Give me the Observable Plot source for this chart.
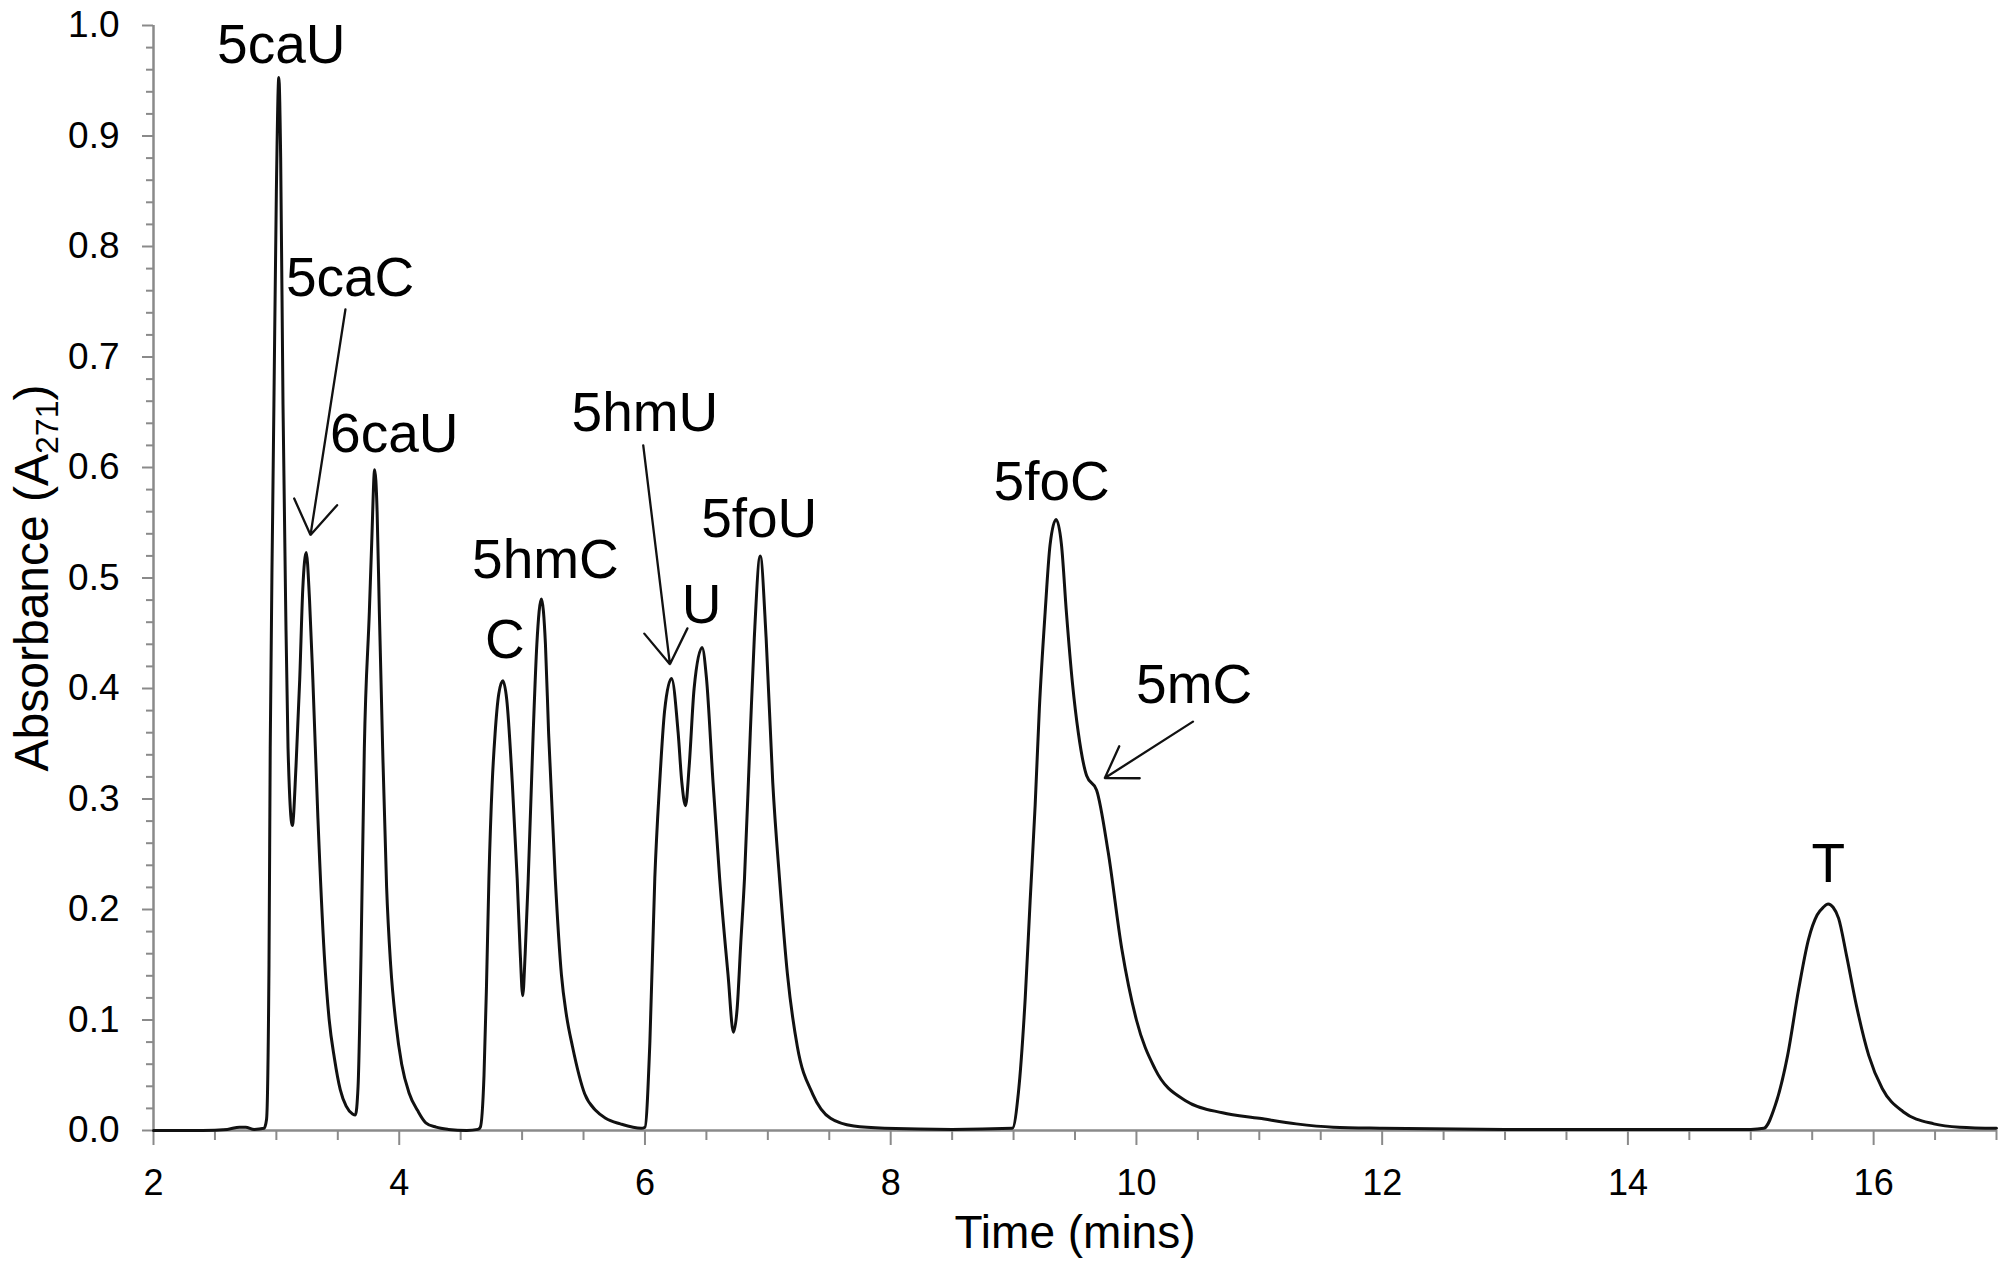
<!DOCTYPE html>
<html>
<head>
<meta charset="utf-8">
<script src="https://cdn.jsdelivr.net/npm/d3@7"></script>
<script src="https://cdn.jsdelivr.net/npm/@observablehq/plot@0.6"></script>
<style>
  html, body { margin: 0; padding: 0; background: #ffffff; }
  #chart svg { display: block; }
</style>
</head>
<body>
<div id="chart"></div>
<script>
// ---- Chromatogram trace (time in minutes, absorbance A271) ----
const time = [2.00, 2.40, 2.60, 2.70, 2.75, 2.82, 2.90, 2.92, 2.94, 2.95, 2.97, 2.98, 3.00, 3.02, 3.035, 3.054, 3.075, 3.095, 3.13, 3.16,
  3.19, 3.215, 3.243, 3.27, 3.297, 3.338, 3.39, 3.43, 3.473, 3.52, 3.568, 3.62, 3.643, 3.665, 3.689, 3.716, 3.757, 3.776, 3.80, 3.82,
  3.838, 3.865, 3.897, 3.93, 3.973, 4.02, 4.08, 4.15, 4.216, 4.30, 4.40, 4.55, 4.64, 4.66, 4.69, 4.71, 4.73, 4.757, 4.78, 4.81,
  4.843, 4.875, 4.92, 4.96, 4.985, 5.005, 5.025, 5.05, 5.09, 5.12, 5.157, 5.19, 5.216, 5.27, 5.32, 5.36, 5.41, 5.51, 5.60, 5.68,
  5.80, 5.97, 6.00, 6.04, 6.08, 6.12, 6.16, 6.216, 6.27, 6.30, 6.33, 6.36, 6.40, 6.465, 6.50, 6.554, 6.608, 6.676, 6.72, 6.75,
  6.78, 6.81, 6.857, 6.89, 6.938, 6.986, 7.04, 7.095, 7.16, 7.24, 7.365, 7.51, 7.70, 7.95, 8.50, 8.99, 9.04, 9.095, 9.135, 9.176,
  9.21, 9.257, 9.297, 9.346, 9.39, 9.43, 9.48, 9.527, 9.595, 9.676, 9.77, 9.88, 10.00, 10.15, 10.40, 10.70, 11.00, 11.30, 11.60, 12.00,
  13.00, 14.00, 15.00, 15.106, 15.20, 15.30, 15.39, 15.47, 15.54, 15.59, 15.63, 15.67, 15.715, 15.78, 15.86, 15.96, 16.07, 16.24, 16.49, 16.70, 17.00];

const absorbance = [0.000, 0.000, 0.001, 0.003, 0.003, 0.001, 0.002, 0.010, 0.150, 0.346, 0.560, 0.657, 0.850, 0.953, 0.880, 0.657, 0.480, 0.346, 0.276, 0.330,
  0.408, 0.490, 0.523, 0.480, 0.408, 0.283, 0.159, 0.100, 0.065, 0.037, 0.022, 0.015, 0.014, 0.040, 0.159, 0.346, 0.470, 0.532, 0.598, 0.560,
  0.470, 0.346, 0.221, 0.150, 0.097, 0.060, 0.034, 0.018, 0.007, 0.003, 0.001, 0.000, 0.001, 0.003, 0.050, 0.130, 0.228, 0.315, 0.359, 0.395,
  0.407, 0.390, 0.315, 0.228, 0.160, 0.122, 0.160, 0.228, 0.359, 0.440, 0.481, 0.440, 0.359, 0.228, 0.141, 0.105, 0.076, 0.033, 0.018, 0.011,
  0.006, 0.002, 0.003, 0.080, 0.228, 0.315, 0.380, 0.409, 0.360, 0.315, 0.294, 0.330, 0.400, 0.437, 0.410, 0.315, 0.228, 0.141, 0.089, 0.110,
  0.170, 0.228, 0.359, 0.446, 0.520, 0.446, 0.315, 0.228, 0.141, 0.076, 0.033, 0.011, 0.004, 0.002, 0.001, 0.002, 0.035, 0.120, 0.208, 0.295,
  0.382, 0.469, 0.530, 0.553, 0.530, 0.469, 0.404, 0.360, 0.321, 0.308, 0.252, 0.165, 0.100, 0.056, 0.027, 0.016, 0.011, 0.006, 0.003, 0.002,
  0.001, 0.001, 0.001, 0.002, 0.023, 0.068, 0.128, 0.173, 0.195, 0.202, 0.205, 0.202, 0.192, 0.158, 0.113, 0.068, 0.038, 0.017, 0.006, 0.003, 0.002];

// ---- Peak annotations ----
const peakLabels = ["5caU", "5caC", "6caU", "C", "5hmC", "5hmU", "U", "5foU", "5foC", "5mC", "T"];
const labelTime  = [3.04, 3.60, 3.96, 4.86, 5.19, 6.00, 6.46, 6.93, 9.31, 10.47, 15.63];
const labelAbs   = [0.966, 0.755, 0.614, 0.428, 0.500, 0.633, 0.459, 0.537, 0.571, 0.387, 0.225];

// ---- Arrows (label -> peak) ----
const arrowFromTime = [3.562, 5.986, 10.46];
const arrowFromAbs  = [0.743, 0.620, 0.370];
const arrowToTime   = [3.278, 6.203, 9.743];
const arrowToAbs    = [0.539, 0.422, 0.319];

// ---- Axes ----
const xTickValues = [2, 4, 6, 8, 10, 12, 14, 16];
const xTickLabels = ["2", "4", "6", "8", "10", "12", "14", "16"];
const xMinorTicks = [2.5, 3, 3.5, 4.5, 5, 5.5, 6.5, 7, 7.5, 8.5, 9, 9.5, 10.5, 11, 11.5, 12.5, 13, 13.5, 14.5, 15, 15.5, 16.5, 17];
const yTickValues = [0, 0.1, 0.2, 0.3, 0.4, 0.5, 0.6, 0.7, 0.8, 0.9, 1.0];
const yTickLabels = ["0.0", "0.1", "0.2", "0.3", "0.4", "0.5", "0.6", "0.7", "0.8", "0.9", "1.0"];
const yMinorTicks = d3.range(0, 50).map(i => i * 0.02).filter((v, i) => i % 5 !== 0);
const xTitle = "Time (mins)";
const yTitle = "Absorbance (A271)";

const trace = time.map((t, i) => ({t, a: absorbance[i]}));
const labelIdx = peakLabels.map((_, i) => i);
const arrowIdx = arrowFromTime.map((_, i) => i);

const AXIS = "#8a8a8a";
const FONT = "'Liberation Sans', Arial, Helvetica, sans-serif";

const chart = Plot.plot({
  width: 2010,
  height: 1280,
  marginLeft: 153,
  marginRight: 14,
  marginTop: 25,
  marginBottom: 150,
  style: {fontFamily: FONT, background: "#ffffff", color: "#000000"},
  x: {domain: [2, 17]},
  y: {domain: [0, 1]},
  marks: [
    // minor ticks
    Plot.axisY({ticks: yMinorTicks, tickSize: 7, tickFormat: () => "", stroke: AXIS, strokeWidth: 2, label: null}),
    Plot.axisX({ticks: xMinorTicks, tickSize: 10, tickFormat: () => "", stroke: AXIS, strokeWidth: 2, label: null}),
    // major ticks with labels
    Plot.axisY({ticks: yTickValues, tickSize: 11, tickPadding: 23, tickFormat: (d) => yTickLabels[yTickValues.indexOf(d)],
      fontSize: 37, stroke: AXIS, strokeWidth: 2, fill: "#000", label: null}),
    Plot.axisX({ticks: xTickValues, tickSize: 15, tickPadding: 24, tickFormat: (d) => xTickLabels[xTickValues.indexOf(d)],
      fontSize: 36, stroke: AXIS, strokeWidth: 2, fill: "#000", label: null}),
    // axis lines
    Plot.ruleX([2], {stroke: AXIS, strokeWidth: 2.5}),
    Plot.ruleY([0], {stroke: AXIS, strokeWidth: 2.5}),
    // trace
    Plot.line(trace, {x: "t", y: "a", stroke: "#111", strokeWidth: 3, curve: "monotone-x"}),
    // arrows
    Plot.arrow(arrowIdx, {
      x1: i => arrowFromTime[i], y1: i => arrowFromAbs[i],
      x2: i => arrowToTime[i], y2: i => arrowToAbs[i],
      stroke: "#111", strokeWidth: 2.3, headLength: 26, headAngle: 66
    }),
    // peak labels
    Plot.text(labelIdx, {
      x: i => labelTime[i], y: i => labelAbs[i], text: i => peakLabels[i],
      fontSize: 55, lineAnchor: "bottom", fill: "#000"
    }),
    // axis titles
    Plot.text([xTitle], {text: d => d, frameAnchor: "bottom", dy: 117, lineAnchor: "bottom", fontSize: 46, fill: "#000"}),
    Plot.text([yTitle], {text: d => d, frameAnchor: "left", textAnchor: "middle", dx: -106, rotate: -90, lineAnchor: "bottom", fontSize: 48, fill: "#000"})
  ]
});

// Subscript for A271
chart.querySelectorAll("text").forEach(el => {
  if (el.textContent === yTitle) {
    el.textContent = "";
    const ns = "http://www.w3.org/2000/svg";
    const a = document.createElementNS(ns, "tspan");
    a.textContent = "Absorbance (A";
    const sub = document.createElementNS(ns, "tspan");
    sub.textContent = "271";
    sub.setAttribute("font-size", "32");
    sub.setAttribute("dy", "10");
    const close = document.createElementNS(ns, "tspan");
    close.textContent = ")";
    close.setAttribute("dy", "-10");
    el.appendChild(a); el.appendChild(sub); el.appendChild(close);
  }
});

document.getElementById("chart").appendChild(chart);
</script>
</body>
</html>
